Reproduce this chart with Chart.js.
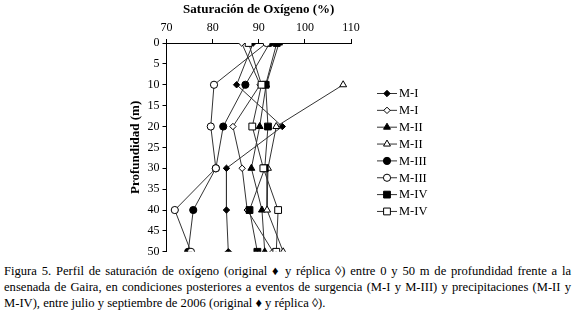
<!DOCTYPE html>
<html>
<head>
<meta charset="utf-8">
<script src="https://cdn.jsdelivr.net/npm/chart.js@4.4.0/dist/chart.umd.min.js"></script>
<style>
  html, body { margin: 0; padding: 0; background: #fff; }
  #wrap { position: relative; width: 576px; height: 318px; overflow: hidden; }
  #chart { position: absolute; left: 0; top: 0; }
  #caption {
    position: absolute; left: 4px; top: 264px; width: 567px;
    font-family: "Liberation Serif", serif; font-size: 12.6px; line-height: 15.8px;
    text-align: justify; color: #000;
  }
</style>
</head>
<body>
<div id="wrap">
  <canvas id="chart" width="576" height="262"></canvas>
  <div id="caption">Figura 5. Perfil de saturación de oxígeno (original ♦ y réplica ◊) entre 0 y 50 m de profundidad frente a la ensenada de Gaira, en condiciones posteriores a eventos de surgencia (M-I y M-III) y precipitaciones (M-II y M-IV), entre julio y septiembre de 2006 (original ♦ y réplica ◊).</div>
</div>
<script>
const depths = [0, 10, 20, 30, 40, 50];
const xTicks = [70, 80, 90, 100, 110];

// original (filled) and replica (open) per sampling
const mIOrig = [88.8, 85.2, 95.1, 83.0, 83.0, 83.4];
const mIRep = [86.3, 90.3, 84.4, 86.4, 87.5, 93.1];
const mIIOrig = [94.4, 91.6, 90.2, 88.4, 90.7, 91.3];
const mIIRep = [null, 108.3, 93.8, 92.0, 91.8, 95.3];
const mIIIOrig = [92.4, 87.1, 82.3, 80.7, 75.8, 74.7];
const mIIIRep = [91.7, 80.3, 79.6, 80.7, 71.8, 75.3];
const mIVOrig = [93.9, 91.5, 92.0, 91.3, 88.0, 89.7];
const mIVRep = [87.8, 90.6, 88.6, 91.0, 94.2, 93.8];

const SERIF = '"Liberation Serif", "Times New Roman", serif';
const LINE = "#333";

function points(values) {
  return values.map((v, i) => ({ x: v, y: depths[i] }));
}

let drawOrder = 8;
function series(label, values, style, radius, filled) {
  return {
    label,
    data: points(values),
    order: drawOrder--, // later series end up on top, like the original
    showLine: true,
    spanGaps: false,
    borderColor: LINE,
    borderWidth: 1,
    pointStyle: style,
    pointRadius: radius,
    pointHoverRadius: radius,
    pointBackgroundColor: filled ? "#000" : "#fff",
    pointBorderColor: "#000",
    pointBorderWidth: 1
  };
}

const datasets = [
  series("M-I", mIOrig, "rectRot", 3.2, true),
  series("M-I", mIRep, "rectRot", 3.2, false),
  series("M-II", mIIOrig, "triangle", 4, true),
  series("M-II", mIIRep, "triangle", 4, false),
  series("M-III", mIIIOrig, "circle", 3.6, true),
  series("M-III", mIIIRep, "circle", 3.6, false),
  series("M-IV", mIVOrig, "rect", 4.8, true),
  series("M-IV", mIVRep, "rect", 4.8, false)
];

const sideLegend = {
  id: "sideLegend",
  afterDraw(chart) {
    const ctx = chart.ctx;
    ctx.save();
    ctx.font = "12.5px " + SERIF;
    ctx.textBaseline = "middle";
    ctx.fillStyle = "#000";
    chart.data.datasets.forEach((ds, i) => {
      const y = 93.5 + i * 16.85;
      ctx.strokeStyle = LINE;
      ctx.lineWidth = 1;
      ctx.beginPath();
      ctx.moveTo(377, y);
      ctx.lineTo(397, y);
      ctx.stroke();
      ctx.fillStyle = ds.pointBackgroundColor;
      ctx.strokeStyle = ds.pointBorderColor;
      Chart.helpers.drawPoint(ctx, {
        pointStyle: ds.pointStyle,
        radius: ds.pointRadius,
        rotation: 0,
        borderWidth: 1
      }, 387, y);
      ctx.fillStyle = "#000";
      ctx.fillText(ds.label, 399, y + 0.5);
    });
    ctx.restore();
  }
};

new Chart(document.getElementById("chart"), {
  type: "scatter",
  data: { datasets },
  plugins: [sideLegend],
  options: {
    responsive: false,
    animation: false,
    layout: { padding: { left: 128, right: 225, top: 2, bottom: 10 } },
    scales: {
      x: {
        type: "linear",
        position: "top",
        min: 70,
        max: 110,
        afterFit(scale) { scale.height = 41; },
        afterBuildTicks(scale) { scale.ticks = xTicks.map(v => ({ value: v })); },
        ticks: { color: "#000", font: { family: SERIF, size: 12 }, padding: 4 },
        grid: { drawOnChartArea: false, drawTicks: true, tickLength: 4, color: "#000" },
        border: { color: "#000", width: 1 },
        title: {
          display: true,
          text: "Saturación de Oxígeno (%)",
          color: "#000",
          font: { family: SERIF, size: 13, weight: "bold" },
          padding: 0
        }
      },
      y: {
        type: "linear",
        reverse: true,
        min: 0,
        max: 50,
        afterFit(scale) { scale.width = 38.5; },
        ticks: { stepSize: 5, color: "#000", font: { family: SERIF, size: 12 }, padding: 3 },
        grid: { drawOnChartArea: false, drawTicks: true, tickLength: 4, color: "#000" },
        border: { color: "#000", width: 1 },
        title: {
          display: true,
          text: "Profundidad (m)",
          color: "#000",
          font: { family: SERIF, size: 13, weight: "bold" },
          padding: 0
        }
      }
    },
    plugins: {
      legend: { display: false },
      tooltip: { enabled: false }
    }
  }
});
</script>
</body>
</html>
